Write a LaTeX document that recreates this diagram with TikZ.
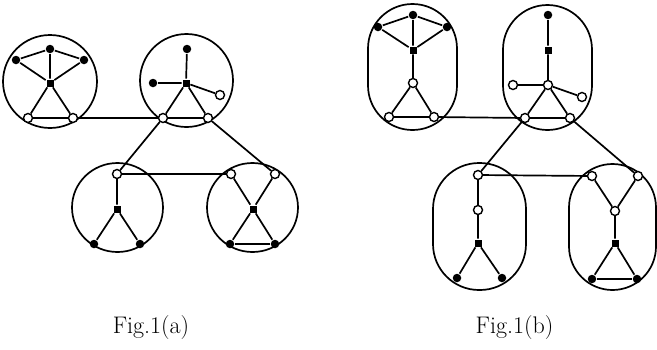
\documentclass[tikz,border=0pt]{standalone}
\begin{document}
\begin{tikzpicture}[x=1pt,y=-1pt,
  every path/.style={line width=1.7pt},
  ov/.style={circle,draw,fill=white,inner sep=0pt,minimum size=9pt,line width=1.4pt},
  fv/.style={circle,fill=black,inner sep=0pt,minimum size=8.5pt},
  sv/.style={rectangle,fill=black,inner sep=0pt,minimum size=7pt},
  hull/.style={draw,line width=1.7pt},
  figcaption/.style={anchor=base,font=\fontsize{24}{28}\selectfont}]
\useasboundingbox (0,0) rectangle (657,349);
% ---------- Fig 1(a) hulls
\draw[hull] (50,81.5) ellipse [x radius=47, y radius=46.5];
\draw[hull] (186.5,80.5) ellipse [x radius=46.5, y radius=46.5];
\draw[hull] (117.5,207.5) ellipse [x radius=45.5, y radius=44.5];
\draw[hull] (252.5,207.5) ellipse [x radius=45.5, y radius=44.5];
% cluster A1
\node[fv] (a1t) at (50,49) {};
\node[fv] (a1l) at (16,60) {};
\node[fv] (a1r) at (84,60) {};
\node[sv] (a1c) at (50,83) {};
\node[ov] (a1bl) at (28,118) {};
\node[ov] (a1br) at (73,118) {};
% cluster A2
\node[fv] (a2t) at (187,49) {};
\node[fv] (a2l) at (153,83) {};
\node[sv] (a2c) at (186,83) {};
\node[ov] (a2r) at (220,95) {};
\node[ov] (a2bl) at (163,118) {};
\node[ov] (a2br) at (208,118) {};
% cluster A3
\node[ov] (a3t) at (117,174) {};
\node[sv] (a3c) at (117,209) {};
\node[fv] (a3bl) at (94,244) {};
\node[fv] (a3br) at (140,244) {};
% cluster A4
\node[ov] (a4tl) at (231,174) {};
\node[ov] (a4tr) at (275,174) {};
\node[sv] (a4c) at (253,209) {};
\node[fv] (a4bl) at (230,244) {};
\node[fv] (a4br) at (275,244) {};
% edges A
\draw (a1t)--(a1l) (a1t)--(a1r) (a1t)--(a1c) (a1l)--(a1c) (a1r)--(a1c)
      (a1c)--(a1bl) (a1c)--(a1br) (a1bl)--(a1br);
\draw (a2c)--(a2t) (a2c)--(a2l) (a2c)--(a2r) (a2c)--(a2bl) (a2c)--(a2br) (a2bl)--(a2br);
\draw (a3t)--(a3c) (a3c)--(a3bl) (a3c)--(a3br);
\draw (a4tl)--(a4c) (a4c)--(a4br) (a4tr)--(a4c) (a4c)--(a4bl) (a4bl)--(a4br);
\draw (a1br)--(a2bl) (a2bl)--(a3t) (a2br)--(a4tr) (a3t)--(a4tl);
% ---------- Fig 1(b) hulls
\draw[hull,rounded corners=44.5pt] (368,4) rectangle (457,130);
\draw[hull,rounded corners=44.5pt] (503,5) rectangle (592,130);
\draw[hull,rounded corners=46pt] (433,163) rectangle (526,290);
\draw[hull,rounded corners=43.5pt] (569,164) rectangle (656,290);
% cluster B1
\node[fv] (b1t) at (413,15) {};
\node[fv] (b1l) at (378,27) {};
\node[fv] (b1r) at (447,27) {};
\node[sv] (b1c) at (413,50) {};
\node[ov] (b1m) at (413,83) {};
\node[ov] (b1bl) at (389,117) {};
\node[ov] (b1br) at (434,117) {};
% cluster B2
\node[fv] (b2t) at (548,15) {};
\node[sv] (b2s) at (548,50) {};
\node[ov] (b2c) at (548,85) {};
\node[ov] (b2l) at (513,85) {};
\node[ov] (b2r) at (582,97) {};
\node[ov] (b2bl) at (525,118) {};
\node[ov] (b2br) at (570,118) {};
% cluster B3
\node[ov] (b3t) at (478,175) {};
\node[ov] (b3m) at (478,210) {};
\node[sv] (b3s) at (478,243) {};
\node[fv] (b3bl) at (457,278) {};
\node[fv] (b3br) at (502,278) {};
% cluster B4
\node[ov] (b4tl) at (592,176) {};
\node[ov] (b4tr) at (638,176) {};
\node[ov] (b4m) at (615,211) {};
\node[sv] (b4s) at (615,243) {};
\node[fv] (b4bl) at (592,279) {};
\node[fv] (b4br) at (637,279) {};
% edges B
\draw (b1t)--(b1l) (b1t)--(b1r) (b1t)--(b1c) (b1l)--(b1c) (b1r)--(b1c)
      (b1c)--(b1m) (b1m)--(b1bl) (b1m)--(b1br) (b1bl)--(b1br);
\draw (b2t)--(b2s) (b2s)--(b2c) (b2c)--(b2l) (b2c)--(b2r) (b2c)--(b2bl) (b2c)--(b2br) (b2bl)--(b2br);
\draw (b3t)--(b3m) (b3m)--(b3s) (b3s)--(b3bl) (b3s)--(b3br);
\draw (b4tl)--(b4m) (b4tr)--(b4m) (b4m)--(b4s) (b4s)--(b4bl) (b4s)--(b4br) (b4bl)--(b4br);
\draw (b1br)--(b2bl) (b2bl)--(b3t) (b2br)--(b4tr) (b3t)--(b4tl);
% captions
\node[figcaption] (capa) at (151,333) {Fig.1(a)};
\node[figcaption] (capb) at (514.5,333) {Fig.1(b)};
\end{tikzpicture}
\end{document}
